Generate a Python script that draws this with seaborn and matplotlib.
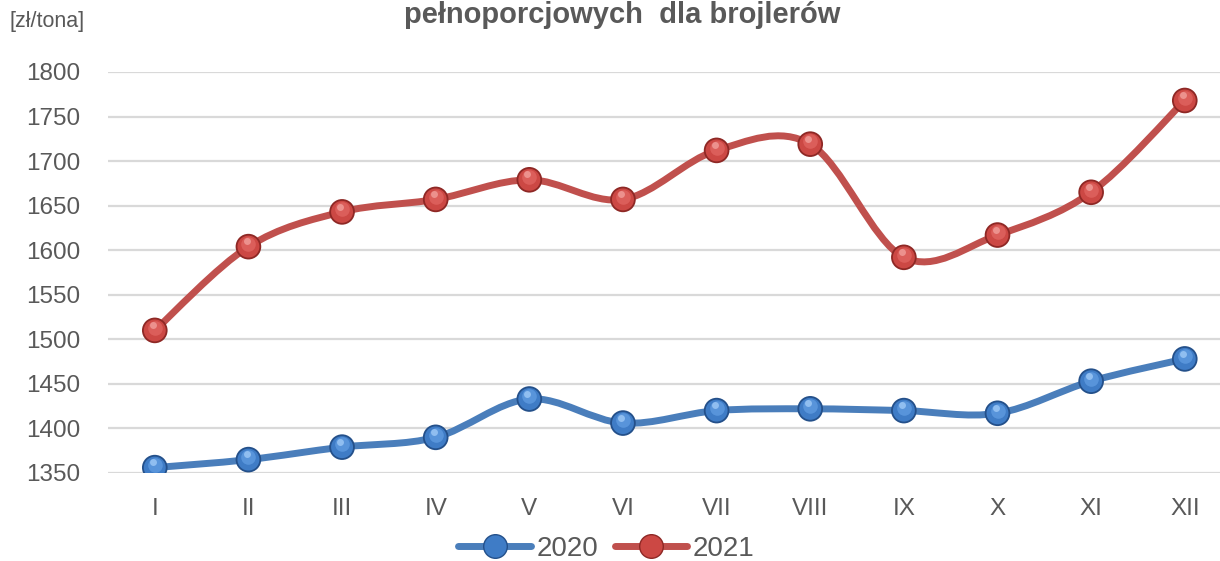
import matplotlib
matplotlib.use("Agg")
import matplotlib.pyplot as plt
from matplotlib.path import Path
from matplotlib.patches import PathPatch
from matplotlib.lines import Line2D
import numpy as np
import pandas as pd
import seaborn as sns

months = ['I', 'II', 'III', 'IV', 'V', 'VI', 'VII', 'VIII', 'IX', 'X', 'XI', 'XII']
price_2020 = [1356, 1365, 1379, 1390, 1433, 1406, 1420, 1422, 1420, 1417, 1453, 1478]
price_2021 = [1510, 1604, 1643, 1657, 1679, 1657, 1712, 1719, 1592, 1617, 1665, 1768]

col_2020 = '#4a7ebb'
col_2021 = '#c0504d'
grey = '#595959'

df = pd.DataFrame({'month': list(range(12)) * 2,
                   'price': price_2020 + price_2021,
                   'year': ['2020'] * 12 + ['2021'] * 12})

sns.set_style('white')
plt.rcParams['font.family'] = ['Liberation Sans', 'DejaVu Sans']

fig = plt.figure(figsize=(12.2, 5.61), dpi=100)
ax = fig.add_axes([0.0885, 0.1569, 0.921, 0.7148])


def smooth_path(xs, ys):
    # excel-like smoothed line: cubic bezier through the points
    pts = np.column_stack([xs, ys]).astype(float)
    n = len(pts)
    verts = [pts[0]]
    codes = [Path.MOVETO]
    for i in range(n - 1):
        p0 = pts[i - 1] if i > 0 else pts[i]
        p1 = pts[i]
        p2 = pts[i + 1]
        p3 = pts[i + 2] if i + 2 < n else pts[i + 1]
        c1 = p1 + (p2 - p0) / 6.0
        c2 = p2 - (p3 - p1) / 6.0
        verts += [c1, c2, p2]
        codes += [Path.CURVE4] * 3
    return Path(verts, codes)


for yr, vals, c in [('2020', price_2020, col_2020), ('2021', price_2021, col_2021)]:
    ax.add_patch(PathPatch(smooth_path(range(12), vals), facecolor='none',
                           edgecolor=c, lw=5, capstyle='round', zorder=2))

# sphere-ish markers: dark base, mid body shifted up, soft highlight
sns.scatterplot(data=df, x='month', y='price', hue='year',
                palette={'2020': '#24508a', '2021': '#8e2825'},
                s=340, edgecolor='none', legend=False, ax=ax, zorder=3)
sns.scatterplot(data=df, x='month', y='price', hue='year',
                palette={'2020': '#3f7cc6', '2021': '#cc4844'},
                s=250, edgecolor='none', legend=False, ax=ax, zorder=4)
ax.scatter(np.arange(12), np.array(price_2020) + 3, s=110, color='#5f9be0', alpha=0.8, zorder=5, lw=0)
ax.scatter(np.arange(12), np.array(price_2021) + 3, s=110, color='#e06460', alpha=0.8, zorder=5, lw=0)
ax.scatter(np.arange(12) - 0.02, np.array(price_2020) + 6, s=25, color='#a8d0fa', alpha=0.7, zorder=6, lw=0)
ax.scatter(np.arange(12) - 0.02, np.array(price_2021) + 6, s=25, color='#f4a8a4', alpha=0.7, zorder=6, lw=0)

ax.set_xlim(-0.5, 11.5)
ax.set_ylim(1350, 1800)
ax.set_yticks(range(1350, 1801, 50))
ax.set_xticks(range(12))
ax.set_xticklabels(months)
ax.yaxis.grid(True, color='#d9d9d9', lw=1.6)
ax.xaxis.grid(False)
for s in ax.spines.values():
    s.set_visible(False)
ax.tick_params(axis='both', length=0, labelsize=17.5, colors=grey)
ax.tick_params(axis='y', pad=20)
ax.tick_params(axis='x', pad=18)
ax.set_xlabel('')
ax.set_ylabel('')

fig.text(0.008, 1 - 22 / 561, '[zł/tona]', fontsize=15.5, color=grey, va='center', ha='left')
fig.text(0.51, 1 - 1 / 561, 'pełnoporcjowych  dla brojlerów', fontsize=21,
         fontweight='bold', color=grey, ha='center', va='top')

handles = [Line2D([], [], color=col_2020, lw=5, marker='o', markersize=17,
                  markerfacecolor='#3f7cc6', markeredgecolor='#24508a'),
           Line2D([], [], color=col_2021, lw=5, marker='o', markersize=17,
                  markerfacecolor='#cc4844', markeredgecolor='#8e2825')]
fig.legend(handles, ['2020', '2021'], loc='center', bbox_to_anchor=(0.497, 1 - 549 / 561),
           ncol=2, frameon=False, fontsize=20, handlelength=2.6, columnspacing=0.6,
           handletextpad=0.2, labelcolor=grey)

fig.savefig('out.png', dpi=100)
